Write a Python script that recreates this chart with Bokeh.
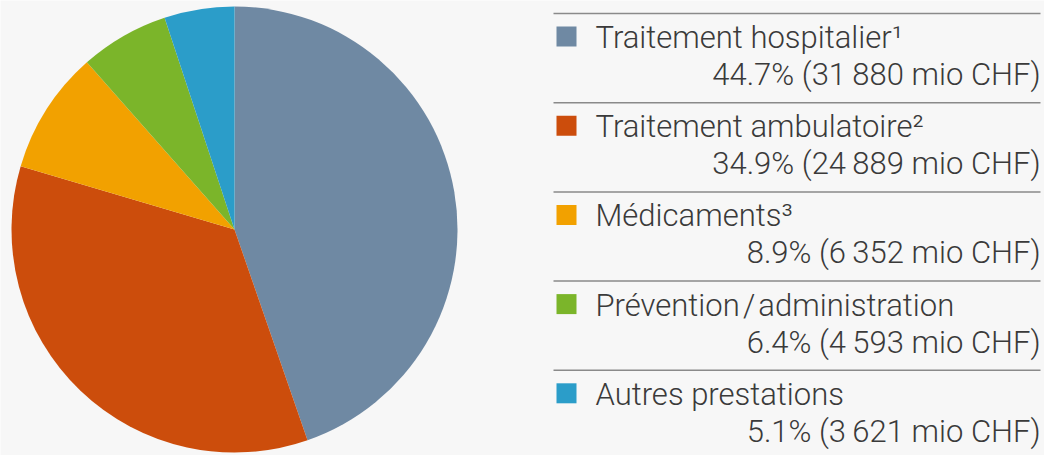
from bokeh.plotting import figure
from bokeh.models import Range1d, ColumnDataSource
from bokeh.core.properties import value
from bokeh.embed import file_html
from bokeh.resources import INLINE
import math

# ---- data ----
categories = ["Traitement hospitalier¹", "Traitement ambulatoire²", "Médicaments³",
              "Prévention\u200a/\u200aadministration", "Autres prestations"]
amounts = [31880, 24889, 6352, 4593, 3621]          # mio CHF
percent_labels = ["44.7%", "34.9%", "8.9%", "6.4%", "5.1%"]
amount_labels = ["31\u2009880", "24\u2009889", "6\u2009352", "4\u2009593", "3\u2009621"]
colors = ["#6f89a3", "#cc4d0c", "#f2a100", "#7bb52a", "#2b9dc9"]

W, H = 1044, 455
BG = "#f7f7f7"
FONT = "'Roboto Light', Roboto, 'Liberation Sans'"
TXT = "#3a3a3a"

p = figure(width=W, height=H, output_backend="svg", toolbar_location=None,
           x_range=Range1d(0, W), y_range=Range1d(0, H),
           min_border=0, background_fill_color=BG, border_fill_color=BG)
p.outline_line_color = None
p.axis.visible = False
p.grid.visible = False

def sy(y):
    return H - y

# ---- pie ----
total = float(sum(amounts))
starts, ends = [], []
cum = 0.0
for a in amounts:
    s = cum / total
    cum += a
    e = cum / total
    starts.append(math.pi / 2 - 2 * math.pi * e)
    ends.append(math.pi / 2 - 2 * math.pi * s)
src = ColumnDataSource(dict(start=starts, end=ends, color=colors))
p.wedge(x=234, y=sy(229), radius=223, start_angle="start", end_angle="end",
        color="color", line_color=None, source=src)

# ---- legend ----
top = 13
step = 89.2
n = len(categories)
line_y = [top + i * step for i in range(n)]
p.segment(x0=[553] * n, y0=[sy(v) for v in line_y], x1=[1040] * n,
          y1=[sy(v) for v in line_y], line_color="#8a8a8a", line_width=1.5)
p.rect(x=[566] * n, y=[sy(v + 23) for v in line_y], width=20, height=20,
       color=colors, line_color=None)
p.text(x=[595] * n, y=[sy(v + 24) for v in line_y], text=categories,
       text_font=value(FONT), text_font_size="31px", text_color=TXT,
       text_baseline="alphabetic", text_align="left")
vals = [f"{pc} ({am} mio CHF)" for pc, am in zip(percent_labels, amount_labels)]
p.text(x=[1040] * n, y=[sy(v + 61) for v in line_y], text=vals,
       text_font=value(FONT), text_font_size="31px", text_color=TXT,
       text_baseline="alphabetic", text_align="right")

open("out.html", "w").write(file_html(p, INLINE))
